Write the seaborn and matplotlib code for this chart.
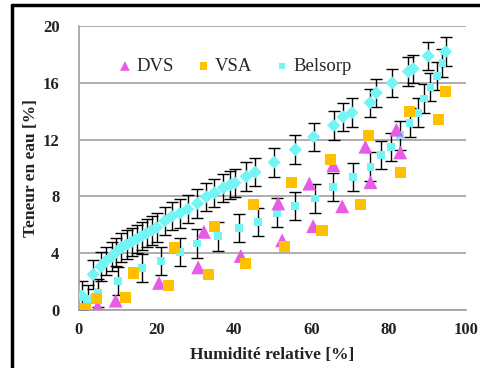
import numpy as np
import pandas as pd
import matplotlib
matplotlib.use("Agg")
import matplotlib.pyplot as plt
import seaborn as sns
from matplotlib.lines import Line2D

# ==============================
# Données
# ==============================
dvs_x = [4.5, 5.0, 9.5, 20.7, 30.8, 32.3, 41.8, 51.5, 52.5, 59.5, 60.5, 65.7, 68.0, 74.0, 75.3, 82.0, 83.0]
dvs_y = [0.05, 0.15, 0.65, 1.9, 3.0, 5.5, 3.8, 7.5, 4.9, 8.9, 5.9, 10.2, 7.3, 11.5, 9.0, 12.7, 11.1]

vsa_x = [1.8, 4.6, 12.1, 14.2, 23.1, 24.6, 33.4, 35.0, 43.0, 45.0, 53.0, 55.0, 62.8, 65.0, 72.7, 74.7, 83.0, 85.3, 92.8, 94.6]
vsa_y = [0.07, 0.8, 0.85, 2.6, 1.7, 4.4, 2.5, 5.9, 3.25, 7.4, 4.45, 9.0, 5.6, 10.6, 7.4, 12.3, 9.7, 14.0, 13.4, 15.4]

# Belsorp - branche haute (losanges)
bel_up_x = [0.7, 3.7, 5.7, 7.0, 8.5, 9.7, 11.0, 12.3, 13.6, 14.9, 16.2, 17.5, 18.8, 20.1, 22.2, 24.0, 26.0,
            28.1, 30.6, 32.9, 35.0, 37.3, 39.0, 40.3, 43.2, 45.5, 50.4, 55.9, 60.6, 65.8, 68.2, 70.5,
            75.2, 76.8, 80.9, 85.1, 86.3, 90.2, 94.7]
bel_up_y = [1.0, 2.5, 3.05, 3.45, 3.75, 4.1, 4.4, 4.6, 4.8, 5.0, 5.2, 5.4, 5.6, 5.8, 6.27, 6.6, 6.8,
            7.1, 7.5, 7.96, 8.25, 8.6, 8.8, 8.95, 9.4, 9.7, 10.4, 11.3, 12.2, 13.0, 13.6, 13.9,
            14.6, 15.3, 16.0, 16.8, 17.0, 17.9, 18.2]

# Belsorp - branche basse (carrés)
bel_lo_x = [2.4, 4.9, 10.2, 16.3, 21.2, 26.1, 30.6, 36.0, 41.3, 46.3, 51.2, 55.9, 60.9, 65.7, 70.8,
            75.3, 78.1, 80.6, 83.0, 85.4, 87.7, 89.2, 90.8, 92.5, 93.9]
bel_lo_y = [0.78, 1.2, 2.03, 2.95, 3.45, 4.1, 4.68, 5.18, 5.78, 6.2, 6.85, 7.3, 7.85, 8.65, 9.35,
            10.1, 10.9, 11.5, 12.3, 13.2, 13.9, 14.9, 15.7, 16.5, 17.4]

bel_err = 1.0

x_ticks = [0, 20, 40, 60, 80, 100]
y_ticks = [0, 4, 8, 12, 16, 20]

# ==============================
# Style
# ==============================
sns.set_style("white")
plt.rcParams["font.family"] = ["Liberation Serif", "DejaVu Serif"]

c_dvs = "#E65CE6"
c_vsa = "#FFC000"
c_bel = "#73F5F5"

fig = plt.figure(figsize=(4.81, 3.68), dpi=100)
ax = fig.add_axes([0.164, 0.158, 0.805, 0.771])

# barres d'erreur Belsorp
ax.errorbar(bel_up_x, bel_up_y, yerr=bel_err, fmt="none", ecolor="black",
            elinewidth=1, capsize=4, capthick=1, zorder=2)
ax.errorbar(bel_lo_x, bel_lo_y, yerr=bel_err, fmt="none", ecolor="black",
            elinewidth=1, capsize=4, capthick=1, zorder=2)

df_dvs = pd.DataFrame({"x": dvs_x, "y": dvs_y})
df_vsa = pd.DataFrame({"x": vsa_x, "y": vsa_y})
df_up = pd.DataFrame({"x": bel_up_x, "y": bel_up_y})
df_lo = pd.DataFrame({"x": bel_lo_x, "y": bel_lo_y})

sns.scatterplot(data=df_dvs, x="x", y="y", ax=ax, marker="^", s=100, color=c_dvs,
                edgecolor="none", label="DVS", zorder=4)
sns.scatterplot(data=df_vsa, x="x", y="y", ax=ax, marker="s", s=65, color=c_vsa,
                edgecolor="none", label="VSA", zorder=4)
sns.scatterplot(data=df_up, x="x", y="y", ax=ax, marker="D", s=45, color=c_bel,
                edgecolor="none", zorder=3)
sns.scatterplot(data=df_lo, x="x", y="y", ax=ax, marker="s", s=32, color=c_bel,
                edgecolor="none", label="Belsorp", zorder=3)

# ==============================
# Axes
# ==============================
ax.set_xlim(0, 100)
ax.set_ylim(0, 20)
ax.set_xticks(x_ticks)
ax.set_yticks(y_ticks)
ax.yaxis.grid(True, color="#A0A0A0", linewidth=1.2)
ax.set_axisbelow(True)
for s in ["top", "right"]:
    ax.spines[s].set_visible(False)
for s in ["left", "bottom"]:
    ax.spines[s].set_color("#A0A0A0")
    ax.spines[s].set_linewidth(1.2)
ax.tick_params(axis="both", colors="#A0A0A0", length=5, width=1.2, direction="out",
               labelcolor="#222222", labelsize=12)
ax.tick_params(axis="y", direction="inout", length=10, pad=9)
for lab in ax.get_xticklabels() + ax.get_yticklabels():
    lab.set_fontweight("bold")

ax.set_xlabel("Humidité relative [%]", fontsize=12.5, fontweight="bold", color="#222222", labelpad=7)
ax.set_ylabel("Teneur en eau [%]", fontsize=12.5, fontweight="bold", color="#222222")
ax.yaxis.set_label_coords(-0.103, 0.5)

leg = ax.legend(loc="upper left", bbox_to_anchor=(0.085, 0.915), ncol=3, frameon=False,
                fontsize=13.5, handlelength=0.6, handletextpad=0.3, columnspacing=1.3,
                markerscale=0.7, borderaxespad=0)

# cadre de la figure
fig.add_artist(Line2D([12 / 481, 12 / 481], [0, 1 - 5 / 368], transform=fig.transFigure,
                      color="black", linewidth=2.5))
fig.add_artist(Line2D([12 / 481, 1], [1 - 5 / 368, 1 - 5 / 368], transform=fig.transFigure,
                      color="black", linewidth=2.5))

fig.savefig("out.png", dpi=100)
